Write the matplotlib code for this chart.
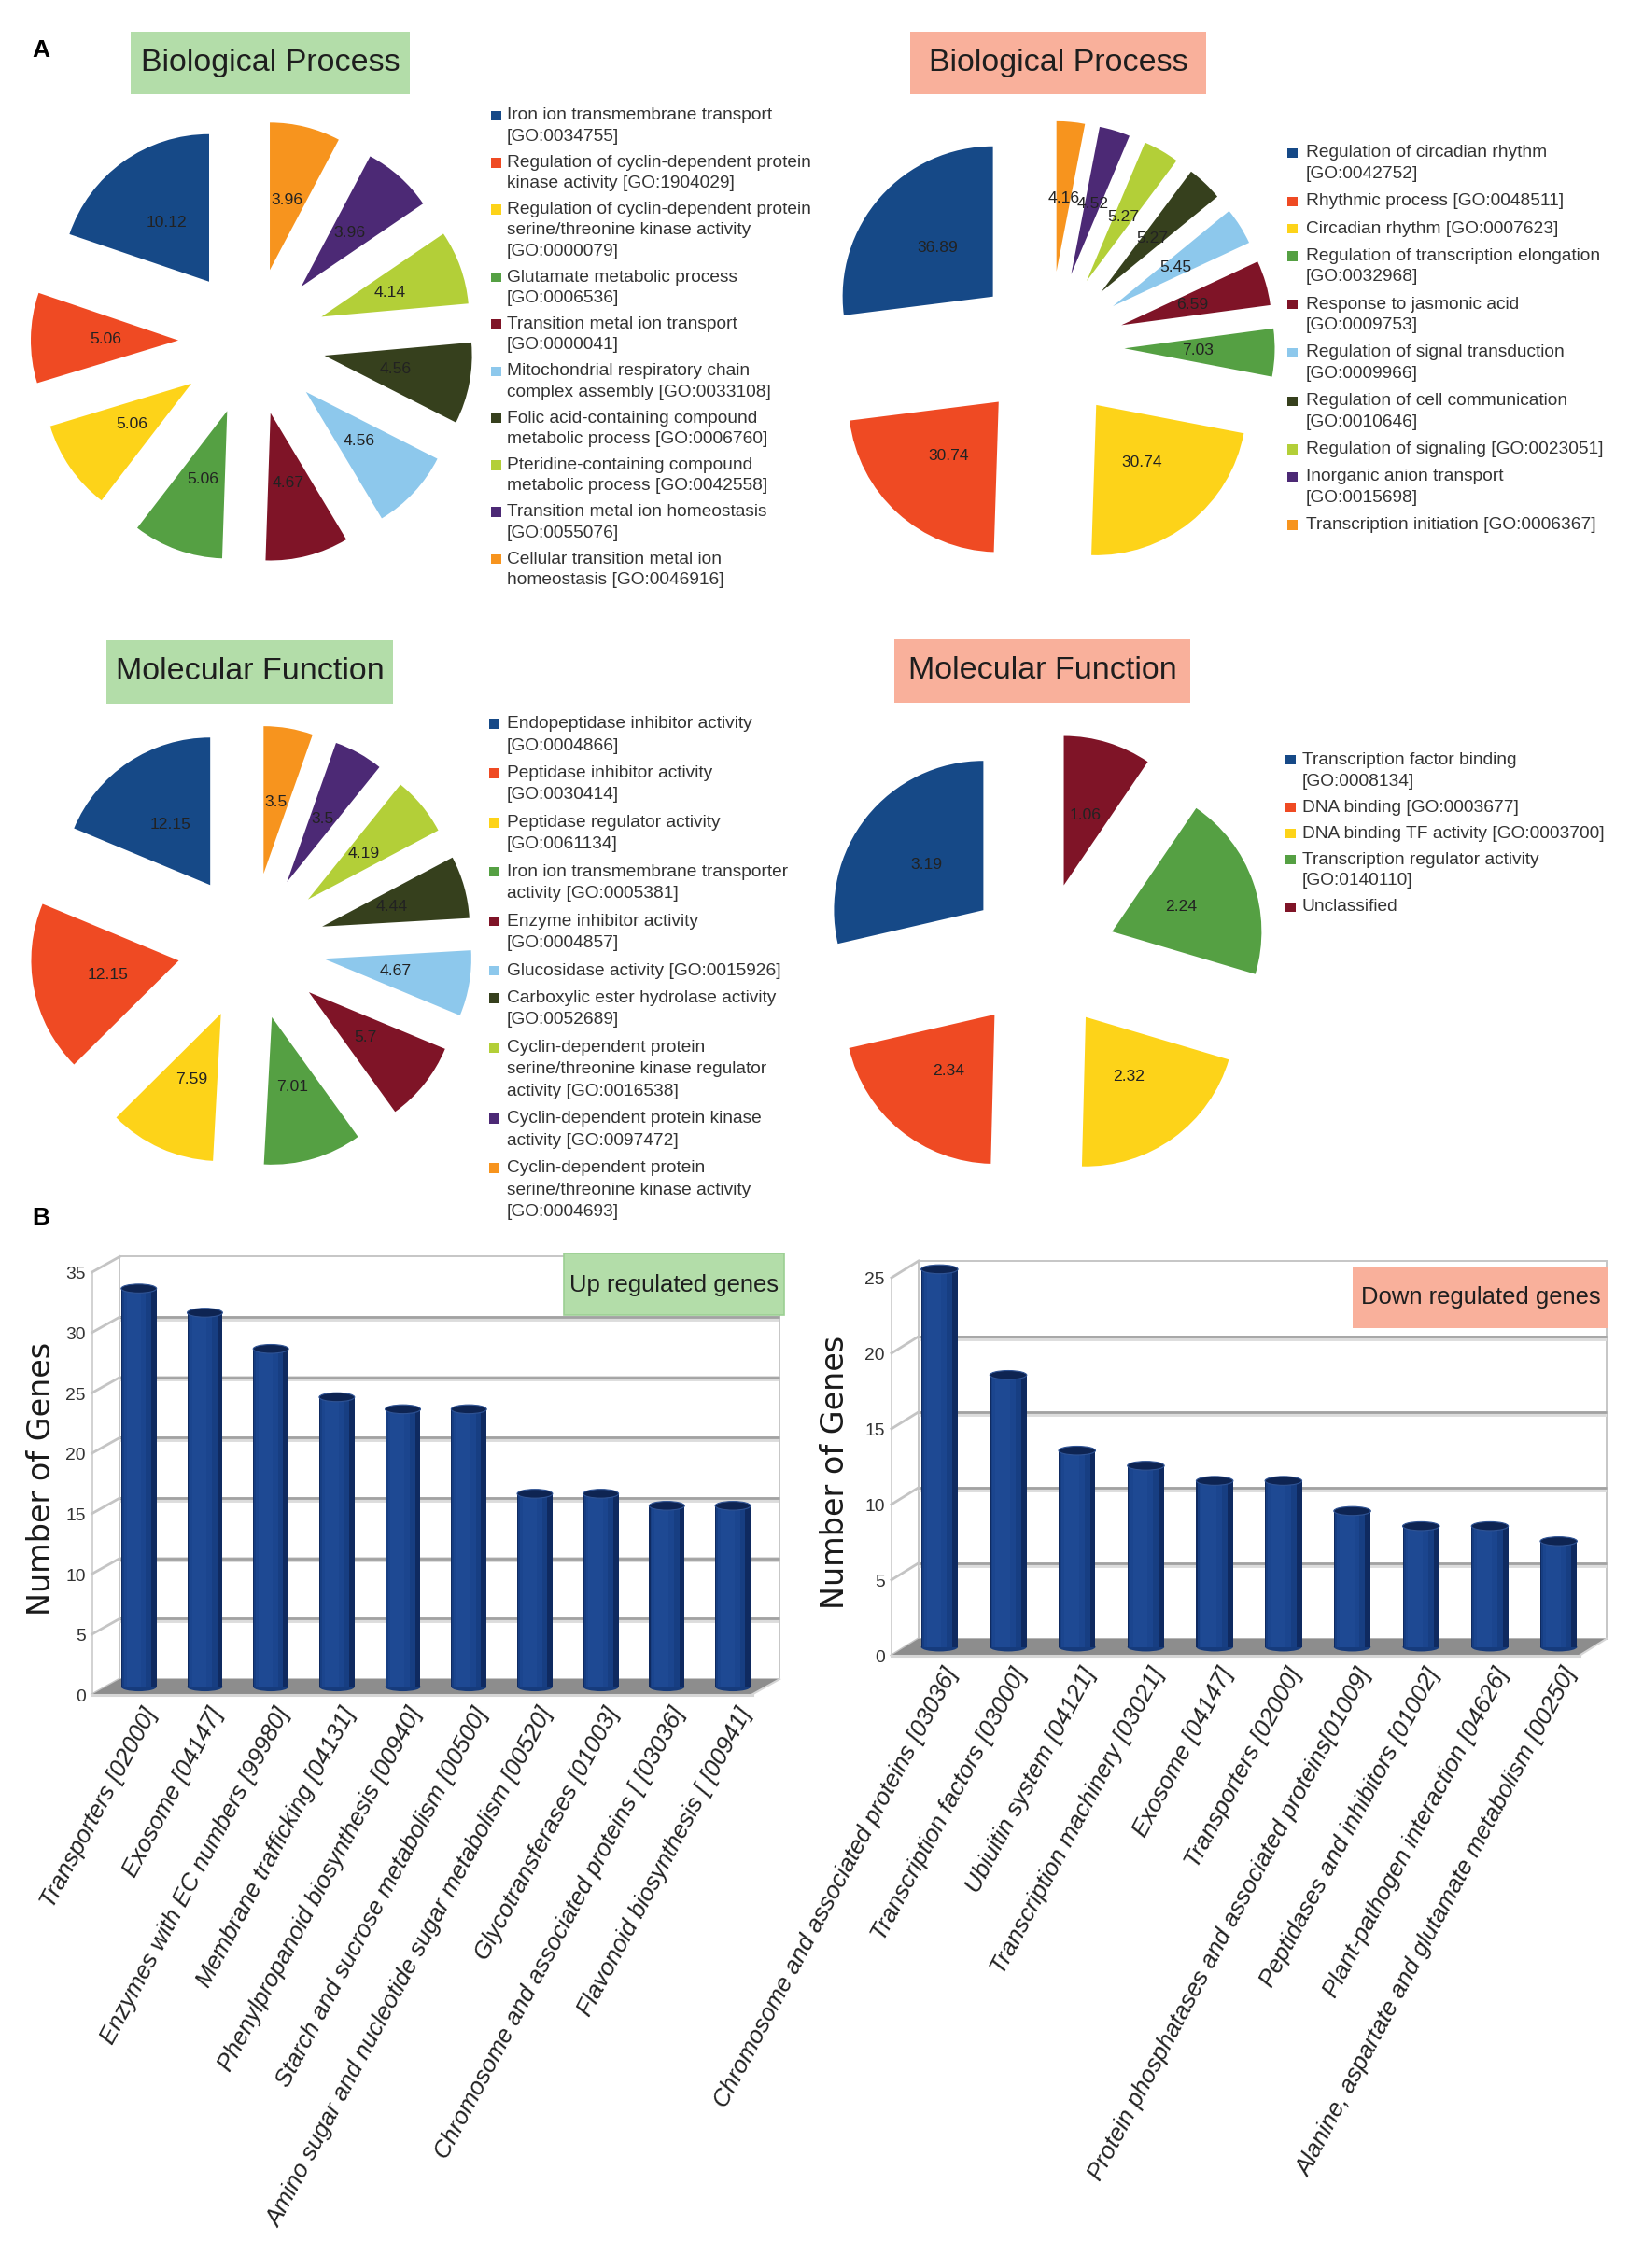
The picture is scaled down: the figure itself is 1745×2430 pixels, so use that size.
import matplotlib
matplotlib.use('Agg')
import numpy as np
import matplotlib.pyplot as plt
from matplotlib.patches import Rectangle, Ellipse, Polygon
from matplotlib.transforms import offset_copy
from matplotlib import font_manager as fm

# ---------------- data ----------------
pie_colors = ['#164987', '#ef4a23', '#fdd319', '#55a043', '#7f1427',
              '#8dc8ec', '#36401d', '#b3cf38', '#4c2975', '#f7941e']

bp_up_values = [10.12, 5.06, 5.06, 5.06, 4.67, 4.56, 4.56, 4.14, 3.96, 3.96]
bp_up_labels = ["Iron ion transmembrane transport\n[GO:0034755]",
                "Regulation of cyclin-dependent protein\nkinase activity [GO:1904029]",
                "Regulation of cyclin-dependent protein\nserine/threonine kinase activity\n[GO:0000079]",
                "Glutamate metabolic process\n[GO:0006536]",
                "Transition metal ion transport\n[GO:0000041]",
                "Mitochondrial respiratory chain\ncomplex assembly [GO:0033108]",
                "Folic acid-containing compound\nmetabolic process [GO:0006760]",
                "Pteridine-containing compound\nmetabolic process [GO:0042558]",
                "Transition metal ion homeostasis\n[GO:0055076]",
                "Cellular transition metal ion\nhomeostasis [GO:0046916]"]

bp_down_values = [36.89, 30.74, 30.74, 7.03, 6.59, 5.45, 5.27, 5.27, 4.52, 4.16]
bp_down_labels = ["Regulation of circadian rhythm\n[GO:0042752]",
                  "Rhythmic process [GO:0048511]",
                  "Circadian rhythm [GO:0007623]",
                  "Regulation of transcription elongation\n[GO:0032968]",
                  "Response to jasmonic acid\n[GO:0009753]",
                  "Regulation of signal transduction\n[GO:0009966]",
                  "Regulation of cell communication\n[GO:0010646]",
                  "Regulation of signaling [GO:0023051]",
                  "Inorganic anion transport\n[GO:0015698]",
                  "Transcription initiation [GO:0006367]"]

mf_up_values = [12.15, 12.15, 7.59, 7.01, 5.7, 4.67, 4.44, 4.19, 3.5, 3.5]
mf_up_labels = ["Endopeptidase inhibitor activity\n[GO:0004866]",
                "Peptidase inhibitor activity\n[GO:0030414]",
                "Peptidase regulator activity\n[GO:0061134]",
                "Iron ion transmembrane transporter\nactivity [GO:0005381]",
                "Enzyme inhibitor activity\n[GO:0004857]",
                "Glucosidase activity [GO:0015926]",
                "Carboxylic ester hydrolase activity\n[GO:0052689]",
                "Cyclin-dependent protein\nserine/threonine kinase regulator\nactivity [GO:0016538]",
                "Cyclin-dependent protein kinase\nactivity [GO:0097472]",
                "Cyclin-dependent protein\nserine/threonine kinase activity\n[GO:0004693]"]

mf_down_values = [3.19, 2.34, 2.32, 2.24, 1.06]
mf_down_labels = ["Transcription factor binding\n[GO:0008134]",
                  "DNA binding [GO:0003677]",
                  "DNA binding TF activity [GO:0003700]",
                  "Transcription regulator activity\n[GO:0140110]",
                  "Unclassified"]

up_categories = ["Transporters [02000]", "Exosome [04147]",
                 "Enzymes with EC numbers [99980]", "Membrane trafficking [04131]",
                 "Phenylpropanoid biosynthesis [00940]",
                 "Starch and sucrose metabolism [00500]",
                 "Amino sugar and nucleotide sugar metabolism [00520]",
                 "Glycotransferases [01003]",
                 "Chromosome and associated proteins [ [03036]",
                 "Flavonoid biosynthesis [ [00941]"]
up_counts = [33, 31, 28, 24, 23, 23, 16, 16, 15, 15]
up_yticks = [0, 5, 10, 15, 20, 25, 30, 35]

down_categories = ["Chromosome and associated proteins [03036]",
                   "Transcription factors [03000]", "Ubiuitin system [04121]",
                   "Transcription machinery [03021]", "Exosome [04147]",
                   "Transporters [02000]",
                   "Protein phosphatases and associated proteins[01009]",
                   "Peptidases and inhibitors [01002]",
                   "Plant-pathogen interaction [04626]",
                   "Alanine, aspartate and glutamate metabolism [00250]"]
down_counts = [25, 18, 13, 12, 11, 11, 9, 8, 8, 7]
down_yticks = [0, 5, 10, 15, 20, 25]

# ---------------- setup ----------------
W, H = 1745, 2430
DPI = 100
fig = plt.figure(figsize=(W / DPI, H / DPI), dpi=DPI)
fig.patch.set_facecolor('white')


def has_font(name):
    try:
        fm.findfont(fm.FontProperties(family=name), fallback_to_default=False)
        return True
    except Exception:
        return False


SANS = 'Liberation Sans' if has_font('Liberation Sans') else 'DejaVu Sans'
if has_font('Liberation Sans Narrow'):
    NARROW, NS = 'Liberation Sans Narrow', 1.0
else:
    NARROW, NS = SANS, 0.84

GREEN_BOX = '#b3dda9'
SALMON_BOX = '#f9b09b'
TXT = '#1e1e1e'


def fx(x):
    return x / W


def fy(y):
    return 1 - y / H


def title_box(x0, x1, y0, y1, text, color):
    fig.add_artist(Rectangle((fx(x0), fy(y1)), (x1 - x0) / W, (y1 - y0) / H,
                             transform=fig.transFigure, facecolor=color,
                             edgecolor='none', zorder=1))
    fig.text(fx((x0 + x1) / 2), fy((y0 + y1) / 2), text, ha='center',
             va='center', family=SANS, size=24.5, color=TXT, zorder=2)


def draw_pie(cx, cy, values, r_px=158, L=1.6):
    S = 2 * L * r_px
    ax = fig.add_axes([fx(cx - S / 2), fy(cy + S / 2), S / W, S / H])
    it = iter(values)
    ax.pie(values, colors=pie_colors[:len(values)], explode=[0.5] * len(values),
           startangle=90, counterclock=True,
           autopct=lambda p: f'{next(it):g}', pctdistance=0.49,
           wedgeprops=dict(linewidth=0),
           textprops=dict(family=NARROW, size=15 * NS, color='#222222'))
    ax.set_xlim(-L, L)
    ax.set_ylim(-L, L)
    ax.set_aspect('equal')
    ax.axis('off')
    return ax


def draw_legend(xm, y_first, labels, w_step, g_step, text_dx=17, msz=10.5):
    y = y_first
    for lab, col in zip(labels, pie_colors):
        fig.add_artist(Rectangle((fx(xm), fy(y + msz / 2)), msz / W, msz / H,
                                 transform=fig.transFigure, facecolor=col,
                                 edgecolor='none'))
        lines = lab.split('\n')
        for k, line in enumerate(lines):
            fig.text(fx(xm + text_dx), fy(y + k * w_step), line, ha='left',
                     va='center', family=SANS, size=13.8, color='#333333')
        y += (len(lines) - 1) * w_step + g_step


# ---------------- panel A ----------------
fig.text(fx(44), fy(54), 'A', family=SANS, weight='bold', size=19,
         ha='center', va='center', color='black')
fig.text(fx(44), fy(1305), 'B', family=SANS, weight='bold', size=19,
         ha='center', va='center', color='black')

title_box(140, 439, 34, 101, 'Biological Process', GREEN_BOX)
title_box(975, 1292, 34, 101, 'Biological Process', SALMON_BOX)
title_box(114, 421, 686, 754, 'Molecular Function', GREEN_BOX)
title_box(958, 1275, 685, 753, 'Molecular Function', SALMON_BOX)

draw_pie(270, 366, bp_up_values)
draw_pie(1124, 371, bp_down_values, r_px=161)
draw_pie(269, 1014, mf_up_values)
draw_pie(1116, 1025, mf_down_values, r_px=160)

draw_legend(526, 124, bp_up_labels, 22.3, 28.0, text_dx=17)
draw_legend(1379, 164, bp_down_labels, 22.5, 29.3, text_dx=20)
draw_legend(524, 775.5, mf_up_labels, 23.5, 29.4, text_dx=19)
draw_legend(1377, 814, mf_down_labels, 23.0, 28.0, text_dx=18)


# ---------------- panel B ----------------
def bar_chart(left_px, zero_px, width_px, ppy, values, cats, yticks,
              back_dx=14.5, back_dy=8.5):
    n = len(values)
    ymax = yticks[-1]
    height_px = ppy * ymax
    ax = fig.add_axes([fx(left_px), fy(zero_px), width_px / W, height_px / H])
    ax.set_xlim(-0.5, n - 0.5)
    ax.set_ylim(0, ymax)
    ax.axis('off')
    ppx = width_px / n
    ox = back_dx / ppx
    oy = back_dy / ppy
    xl, xr = -0.5, n - 0.5
    # back wall
    ax.add_patch(Rectangle((xl + ox, oy), n, ymax, facecolor='white',
                           edgecolor='#c6c6c6', lw=1.4, clip_on=False, zorder=0))
    # grid lines on back wall
    for v in yticks[1:-1]:
        ax.plot([xl + ox, xr + ox], [v + oy - 0.12, v + oy - 0.12], color='#dcdcdc',
                lw=4.2, clip_on=False, zorder=1, solid_capstyle='butt')
        ax.plot([xl + ox, xr + ox], [v + oy, v + oy], color='#a2a2a2',
                lw=2.0, clip_on=False, zorder=1, solid_capstyle='butt')
    # left wall
    ax.plot([xl - ox, xl - ox], [-oy, ymax - oy], color='#d2d2d2', lw=1.4,
            clip_on=False, zorder=1)
    for v in yticks:
        ax.plot([xl + ox, xl - ox], [v + oy, v - oy], color='#c4c4c4', lw=2.0,
                clip_on=False, zorder=1)
    # floor
    ax.add_patch(Polygon([(xl + ox, oy), (xr + ox, oy), (xr - ox, -oy),
                          (xl - ox, -oy)], closed=True, facecolor='#8d8d8d',
                         edgecolor='none', clip_on=False, zorder=1.5))
    ax.plot([xl - ox, xr - ox], [-oy, -oy], color='#d6d6d6', lw=2.2,
            clip_on=False, zorder=1.6)
    ax.plot([xr - ox, xr + ox], [-oy, oy], color='#d6d6d6', lw=1.5,
            clip_on=False, zorder=1.6)
    # cylinders
    x = np.arange(n)
    w = 0.535
    eh = 9.5 / ppy
    for i, v in zip(x, values):
        ax.add_patch(Ellipse((i, 0), w, eh, facecolor='#163b7c',
                             edgecolor='none', zorder=2.9, clip_on=False))
    layers = [(1.0, '#0f2a60', 0.0), (0.82, '#173e82', -0.06),
              (0.62, '#1b458e', -0.11), (0.40, '#1e4993', -0.15)]
    for frac, col, sh in layers:
        ax.bar(x + sh * w, values, width=w * frac, color=col, zorder=3,
               linewidth=0, clip_on=False)
    for i, v in zip(x, values):
        ax.add_patch(Ellipse((i, v), w, eh, facecolor='#0e2452',
                             edgecolor='#2f5394', lw=0.8, zorder=4, clip_on=False))
    # y tick labels
    ytr = offset_copy(ax.transData, fig=fig, x=-7, y=-3, units='dots')
    for v in yticks:
        ax.text(xl - ox, v - oy, str(v), transform=ytr, ha='right', va='center',
                family=NARROW, size=16.5 * NS, color='#333333')
    # x labels
    xtr = offset_copy(ax.transData, fig=fig, x=14, y=-24, units='dots')
    for i, c in zip(x, cats):
        ax.text(i, 0, c, transform=xtr, rotation=62, rotation_mode='anchor',
                ha='right', va='center', family=SANS, style='italic',
                size=18.6, color='#222222')
    return ax


bar_chart(113.4, 1807.3, 707.0, 12.93, up_counts, up_categories, up_yticks,
          back_dx=14.75, back_dy=8.25)
bar_chart(969.5, 1764.7, 737.0, 16.19, down_counts, down_categories,
          down_yticks, back_dx=14.5, back_dy=9.0)

# boxes inside bar charts
fig.add_artist(Rectangle((fx(604), fy(1409)), 236 / W, 66 / H,
                         transform=fig.transFigure, facecolor=GREEN_BOX,
                         edgecolor='#9ccf93', lw=1.2, zorder=5))
fig.text(fx(722), fy(1377), 'Up regulated genes', ha='center', va='center',
         family=NARROW, size=22 * NS, color=TXT, zorder=6)
fig.add_artist(Rectangle((fx(1449), fy(1423)), 274 / W, 66 / H,
                         transform=fig.transFigure, facecolor=SALMON_BOX,
                         edgecolor='none', zorder=5))
fig.text(fx(1586), fy(1390), 'Down regulated genes', ha='center', va='center',
         family=NARROW, size=22 * NS, color=TXT, zorder=6)

fig.text(fx(44.6), fy(1584.5), 'Number of Genes', rotation=90, ha='center',
         va='center', family='DejaVu Sans', size=24, color='#1a1a1a')
fig.text(fx(895), fy(1577.5), 'Number of Genes', rotation=90, ha='center',
         va='center', family='DejaVu Sans', size=24, color='#1a1a1a')

fig.savefig('out.png', dpi=DPI, facecolor='white')
